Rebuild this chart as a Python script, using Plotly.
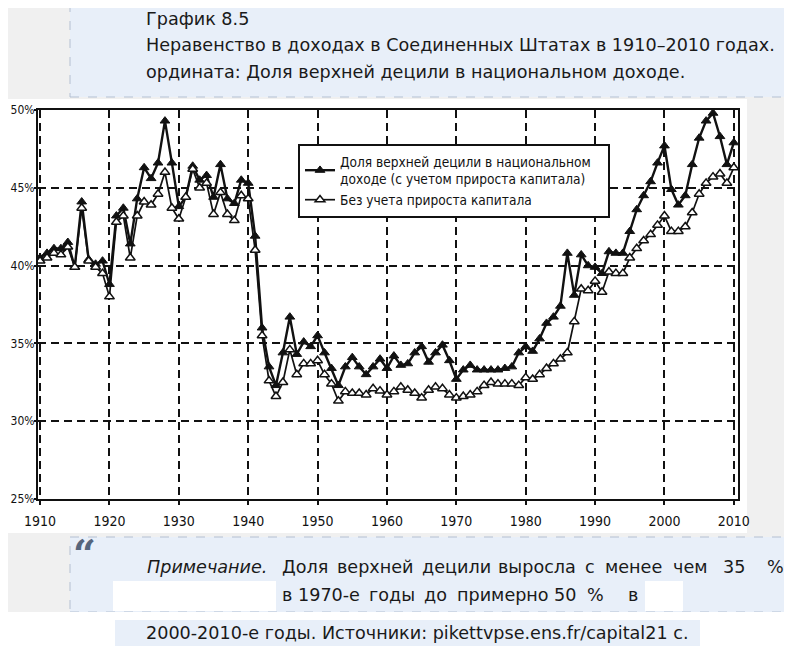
import plotly.graph_objects as go

years = list(range(1910, 2011))

with_gains = [
    40.5, 40.8, 41.1, 41.1, 41.5, 39.9, 44.1, 40.4, 40.1, 40.3,
    38.8, 43.2, 43.7, 41.4, 44.3, 46.3, 45.6, 46.6, 49.3, 46.6,
    43.8, 44.4, 46.4, 45.5, 45.8, 44.4, 46.5, 44.3, 44.0, 45.5,
    45.3, 41.9, 36.0, 33.5, 32.3, 34.4, 36.7, 34.3, 35.1, 34.8,
    35.5, 34.4, 33.4, 32.3, 33.5, 34.1, 33.5, 33.0, 33.5, 34.0,
    33.4, 34.2, 33.6, 33.7, 34.4, 34.8, 33.8, 34.4, 34.9, 33.9,
    32.7, 33.3, 33.6, 33.3, 33.3, 33.3, 33.3, 33.4, 33.5, 34.4,
    34.8, 34.5, 35.3, 36.3, 36.7, 37.4, 40.8, 38.1, 40.7, 40.0,
    39.9, 39.5, 40.9, 40.8, 40.8, 42.2, 43.6, 44.5, 45.4, 46.6,
    47.7, 44.9, 43.9, 44.5, 46.5, 48.2, 49.3, 49.8, 48.3, 46.5,
    47.9,
]

without_gains = [
    40.3, 40.5, 40.8, 40.7, 41.2, 39.9, 43.7, 40.3, 39.9, 39.5,
    38.0, 42.8, 43.2, 40.5, 43.2, 44.1, 43.9, 44.6, 46.0, 43.7,
    43.0, 44.4, 46.2, 45.0, 45.3, 43.3, 44.7, 43.3, 42.9, 44.5,
    44.3, 41.0, 35.5, 32.6, 31.6, 32.5, 34.6, 33.0, 33.7, 33.7,
    33.9, 33.0, 32.4, 31.3, 31.9, 31.8, 31.8, 31.7, 32.1, 31.95,
    31.7, 31.9, 32.2, 32.0, 31.8, 31.5, 32.0, 32.2, 32.1, 31.7,
    31.5, 31.6, 31.7, 31.9, 32.3, 32.5, 32.4, 32.4, 32.4, 32.3,
    32.8, 32.7, 33.0, 33.4, 33.7, 34.0, 34.4, 36.4, 38.5, 38.4,
    39.0, 38.3, 39.6, 39.5, 39.5, 40.5, 41.1, 41.6, 42.0, 42.6,
    43.2, 42.2, 42.2, 42.5, 43.4, 44.6, 45.3, 45.7, 45.9, 45.3,
    46.3,
]

series_names = [
    "Доля верхней децили в национальном\u00a0\u00a0\u00a0<br>доходе (с учетом прироста капитала)",
    "Без учета прироста капитала",
]

x_ticks = list(range(1910, 2011, 10))
x_tick_labels = [str(v) for v in x_ticks]
y_ticks = [25, 30, 35, 40, 45, 50]
y_tick_labels = ["25%", "30%", "35%", "40%", "45%", "50%"]

header_lines = [
    "График 8.5",
    "Неравенство в доходах в Соединенных Штатах в 1910–2010 годах.",
    "ордината: Доля верхней децили в национальном доходе.",
]
note_label = "Примечание."
note_line1_words = ["Доля", "верхней", "децили", "выросла", "с", "менее", "чем", "35", "%"]
note_line2_words = ["в", "1970-е", "годы", "до", "примерно", "50", "%", "в"]
note_line3 = "2000-2010-е годы. Источники: pikettvpse.ens.fr/capital21 с."

# ---------------- layout geometry ----------------
# The page body has an 8px margin, so the figure is drawn 8px smaller and
# page coordinates are converted to figure coordinates.
OFF = 8
W_FIG, H_FIG = 792 - OFF, 646 - OFF
PLOT_LEFT, PLOT_RIGHT, PLOT_TOP, PLOT_BOTTOM = 38, 738, 110, 499   # page px
L = PLOT_LEFT - OFF
T = PLOT_TOP - OFF
PW = PLOT_RIGHT - PLOT_LEFT
PH = PLOT_BOTTOM - PLOT_TOP
R = W_FIG - L - PW
B = H_FIG - T - PH


def px(x):
    return (x - PLOT_LEFT) / PW


def py(y):
    return (PLOT_BOTTOM - y) / PH


BOX_BG = "#e8eff9"
PAGE_BG = "#f0f0f0"
BORDER = "#b4c0d2"
TXT = "#1a1a1a"
PAGE_FONT = "DejaVu Sans, Verdana, sans-serif"
CHART_FONT = "DejaVu Sans Condensed, Liberation Sans Narrow, Arial Narrow, sans-serif"
PAGE_SIZE = 17.6

fig = go.Figure()

fig.add_trace(go.Scatter(
    x=years, y=with_gains, name=series_names[0], mode="lines+markers",
    line=dict(color="#111111", width=2.4),
    marker=dict(symbol="triangle-up", size=8.5, color="#111111",
                line=dict(color="#111111", width=1)),
))
fig.add_trace(go.Scatter(
    x=years, y=without_gains, name=series_names[1], mode="lines+markers",
    line=dict(color="#111111", width=1.7),
    marker=dict(symbol="triangle-up", size=8.5, color="white",
                line=dict(color="#111111", width=1.5)),
))

shapes = []


def rect(x0, y0, x1, y1, fill, dash_border=False):
    shapes.append(dict(
        type="rect", xref="paper", yref="paper", layer="below",
        x0=px(x0), x1=px(x1), y0=py(y1), y1=py(y0),
        fillcolor=fill,
        line=dict(color=BORDER if dash_border else fill,
                  width=1 if dash_border else 0,
                  dash="dash" if dash_border else "solid"),
    ))


rect(70, -10, 820, 97, BOX_BG, True)
rect(-10, 99, 747, 533, "white")
rect(70, 537, 820, 612, BOX_BG, True)
rect(113, 581, 683, 611, "white")
rect(276, 581, 645, 611, BOX_BG)
rect(-10, 612, 820, 660, "white")
rect(115, 620, 700, 660, BOX_BG)

annotations = []


def text(x, y, s, size=PAGE_SIZE, anchor="left", italic=False, family=PAGE_FONT,
         color=TXT, weight="normal"):
    annotations.append(dict(
        xref="paper", yref="paper", x=px(x), y=py(y), text=s, showarrow=False,
        xanchor=anchor, yanchor="middle", borderpad=0,
        font=dict(family=family, size=size, color=color, weight=weight,
                  style="italic" if italic else "normal"),
    ))


for i, line in enumerate(header_lines):
    text(145, 19 + i * 26.5, line)

text(72, 553, "“", size=40, family="DejaVu Serif, serif", color="#56657c", weight="bold")
text(146, 567, note_label, italic=True)
line1_x = [281, 336, 421, 497, 584, 604, 672, 722, 766]
for w, xx in zip(note_line1_words, line1_x):
    text(xx, 567, w)
line2_x = [281, 297, 368, 423, 456, 553, 586, 627]
for w, xx in zip(note_line2_words, line2_x):
    text(xx, 595, w)
text(145, 633, note_line3)

fig.update_layout(
    width=W_FIG, height=H_FIG,
    margin=dict(l=L, r=R, t=T, b=B, pad=0, autoexpand=False),
    paper_bgcolor=PAGE_BG, plot_bgcolor="white",
    shapes=shapes, annotations=annotations,
    showlegend=True,
    legend=dict(
        x=px(298), y=py(144), xanchor="left", yanchor="top",
        bgcolor="white", bordercolor="#111111", borderwidth=2,
        font=dict(family=CHART_FONT, size=13.6, color="#111111"),
        tracegroupgap=2, itemwidth=30,
    ),
    font=dict(family=CHART_FONT, color="#111111"),
)

fig.update_xaxes(
    range=[1909.7, 2010.6], tickmode="array", tickvals=x_ticks, ticktext=x_tick_labels,
    showline=True, linecolor="#111111", linewidth=2, mirror=True,
    showgrid=True, gridcolor="#111111", gridwidth=2, griddash="8px,5px",
    ticks="outside", ticklen=4, tickwidth=1.5, tickcolor="#111111",
    tickfont=dict(family=CHART_FONT, size=14, color="#111111"),
    ticklabelstandoff=4,
    zeroline=False, automargin=False,
)
fig.update_yaxes(
    range=[25, 50], tickmode="array", tickvals=y_ticks, ticktext=y_tick_labels,
    showline=True, linecolor="#111111", linewidth=2, mirror=True,
    showgrid=True, gridcolor="#111111", gridwidth=2, griddash="8px,5px",
    ticks="outside", ticklen=2, tickwidth=1.5, tickcolor="#111111",
    tickfont=dict(family=CHART_FONT, size=12, color="#111111"),
    ticklabelstandoff=-3,
    zeroline=False, automargin=False,
)

fig.write_html("out.html")
